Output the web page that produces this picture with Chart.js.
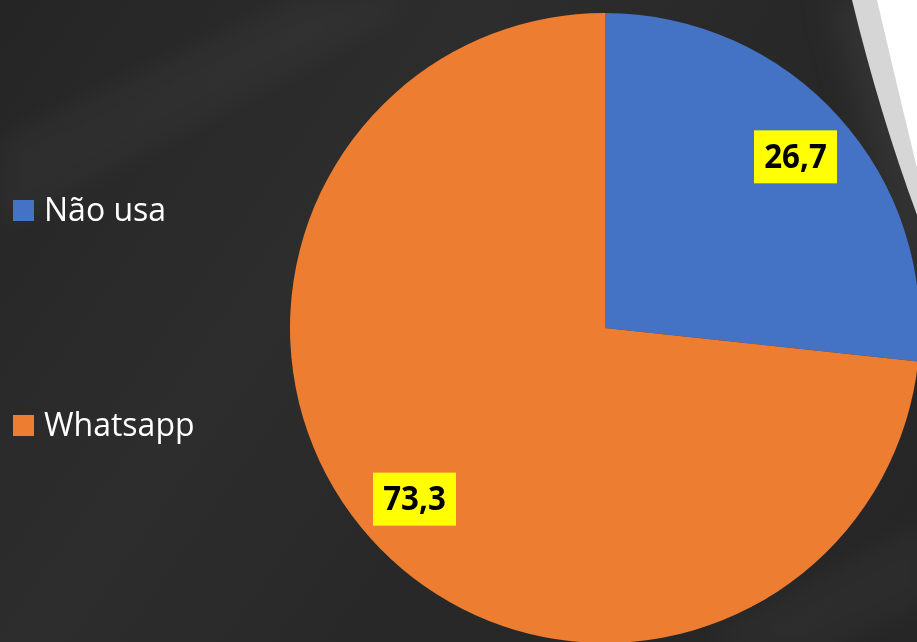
<!DOCTYPE html>
<html>
<head>
<meta charset="utf-8">
<script src="https://cdn.jsdelivr.net/npm/chart.js@4/dist/chart.umd.min.js"></script>
<style>
  html, body { margin: 0; padding: 0; width: 917px; height: 642px; overflow: hidden; background: #2a2a2a; }
  #wrap { position: relative; width: 917px; height: 642px; overflow: hidden; }
  canvas { position: absolute; left: 0; top: 0; }
</style>
</head>
<body>
<div id="wrap"><canvas id="c" width="930" height="660"></canvas></div>
<script>
const categories = ["Não usa", "Whatsapp"];
const values = [26.7, 73.3];
const valueLabels = ["26,7", "73,3"];
const sliceColors = ["#4472C4", "#ED7D31"];

const backgroundPlugin = {
  id: 'bg',
  beforeDraw(chart) {
    const ctx = chart.ctx;
    ctx.save();
    const g = ctx.createLinearGradient(0, 0, 917, 642);
    g.addColorStop(0, '#252525');
    g.addColorStop(0.35, '#2d2d2d');
    g.addColorStop(0.6, '#282828');
    g.addColorStop(1, '#262626');
    ctx.fillStyle = g;
    ctx.fillRect(0, 0, chart.width, chart.height);
    // subtle diagonal streaks
    ctx.filter = 'blur(14px)';
    ctx.globalAlpha = 0.03;
    ctx.fillStyle = '#ffffff';
    ctx.beginPath();
    ctx.moveTo(0, 140); ctx.lineTo(300, 0); ctx.lineTo(420, 0); ctx.lineTo(0, 230); ctx.closePath();
    ctx.fill();
    ctx.beginPath();
    ctx.moveTo(700, 642); ctx.lineTo(930, 520); ctx.lineTo(930, 600); ctx.lineTo(800, 660); ctx.closePath();
    ctx.fill();
    ctx.globalAlpha = 1;
    // slightly lighter zone near the frame
    ctx.fillStyle = '#333333';
    ctx.beginPath();
    ctx.moveTo(830, 0);
    ctx.quadraticCurveTo(865, 130, 912, 300);
    ctx.lineTo(930, 300); ctx.lineTo(930, 0); ctx.closePath();
    ctx.fill();
    ctx.filter = 'none';
    // slide frame decoration top-right: grey band then white
    ctx.fillStyle = '#d6d6d6';
    ctx.beginPath();
    ctx.moveTo(852, 0);
    ctx.quadraticCurveTo(880, 115, 917, 215);
    ctx.lineTo(930, 240);
    ctx.lineTo(930, 0);
    ctx.closePath();
    ctx.fill();
    ctx.fillStyle = '#ffffff';
    ctx.beginPath();
    ctx.moveTo(877, 0);
    ctx.quadraticCurveTo(898, 90, 917, 168);
    ctx.lineTo(930, 195);
    ctx.lineTo(930, 0);
    ctx.closePath();
    ctx.fill();
    ctx.restore();
  }
};

const legendPlugin = {
  id: 'customLegend',
  afterDraw(chart) {
    const ctx = chart.ctx;
    const boxTops = [200, 415];
    const baselines = [221, 436];
    ctx.save();
    ctx.font = '32px "Open Sans", Lato, sans-serif';
    ctx.textBaseline = 'alphabetic';
    ctx.textAlign = 'left';
    chart.data.labels.forEach((lab, i) => {
      ctx.fillStyle = chart.data.datasets[0].backgroundColor[i];
      ctx.fillRect(13, boxTops[i], 21, 21);
      ctx.fillStyle = '#ffffff';
      ctx.fillText(lab, 44, baselines[i]);
    });
    ctx.restore();
  }
};

const labelPlugin = {
  id: 'boxLabels',
  afterDatasetsDraw(chart) {
    const ctx = chart.ctx;
    const meta = chart.getDatasetMeta(0);
    ctx.save();
    ctx.font = 'bold 34px "Open Sans", Lato, sans-serif';
    ctx.textAlign = 'center';
    ctx.textBaseline = 'middle';
    meta.data.forEach((arc, i) => {
      const p = arc.getProps(['x', 'y', 'startAngle', 'endAngle', 'outerRadius'], true);
      const mid = (p.startAngle + p.endAngle) / 2;
      const r = p.outerRadius * 0.813;
      const cx = p.x + Math.cos(mid) * r;
      const cy = p.y + Math.sin(mid) * r;
      const txt = valueLabels[i];
      const w = 83;
      const h = 53;
      ctx.fillStyle = '#FFFF00';
      ctx.fillRect(cx - w / 2, cy - h / 2, w, h);
      ctx.fillStyle = '#000000';
      ctx.save();
      ctx.translate(cx, cy + 1);
      ctx.scale(0.92, 1);
      ctx.fillText(txt, 0, 0);
      ctx.restore();
    });
    ctx.restore();
  }
};

new Chart(document.getElementById('c'), {
  type: 'pie',
  data: {
    labels: categories,
    datasets: [{
      data: values,
      backgroundColor: sliceColors,
      borderWidth: 0
    }]
  },
  options: {
    responsive: false,
    animation: false,
    layout: { padding: { left: 290, top: 13, right: 10, bottom: 17 } },
    plugins: {
      legend: { display: false },
      tooltip: { enabled: false }
    }
  },
  plugins: [backgroundPlugin, labelPlugin, legendPlugin]
});
</script>
</body>
</html>
